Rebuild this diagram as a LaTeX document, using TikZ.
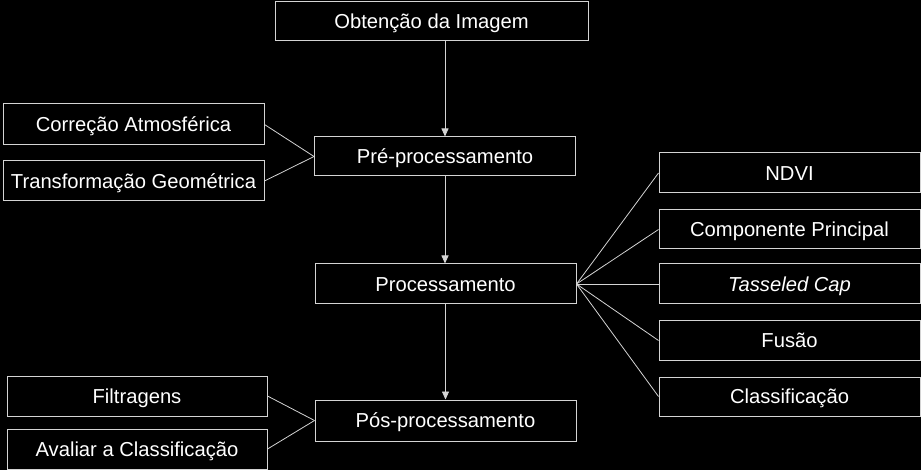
\documentclass[tikz,border=0pt]{standalone}
\usepackage{fontspec}
\setmainfont{Liberation Sans}
\usetikzlibrary{arrows.meta}
\definecolor{edge}{HTML}{D4D4D4}
\begin{document}
\begin{tikzpicture}[x=1pt,y=-1pt,
  box/.style={draw=edge,line width=1pt,fill=black,text=white,inner sep=0pt,
    text height=16pt,text depth=1.6pt,
    minimum width=261pt,minimum height=40pt,font=\fontsize{20.2}{24}\selectfont},
  conn/.style={draw=edge,line width=0.8pt},
  arr/.style={conn,-{Triangle[width=7pt,length=8pt]}}]
\fill[black] (0,0) rectangle (921,470);
\useasboundingbox (0,0) rectangle (921,470);
\node[box,minimum width=313pt,minimum height=39pt] (obt) at (431.5,21.5) {Obtenção da Imagem};
\node[box,minimum height=39pt] (pre) at (445,156.5) {Pré-processamento};
\node[box,minimum height=41pt] (corr) at (133.5,124.5) {Correção Atmosférica};
\node[box] (trans) at (133.5,181) {Transformação Geométrica};
\node[box] (proc) at (445.5,284) {Processamento};
\node[box] (ndvi) at (789.5,173) {NDVI};
\node[box,minimum height=39pt] (comp) at (789.5,229.5) {Componente Principal};
\node[box] (tass) at (789.5,284) {\itshape Tasseled Cap};
\node[box,minimum height=39pt] (fus) at (789.5,340.5) {Fusão};
\node[box,minimum height=39pt] (clas) at (789.5,396.5) {Classificação};
\node[box,minimum height=41pt] (pos) at (445.5,420.5) {Pós-processamento};
\node[box,minimum width=260pt] (filt) at (137,396) {Filtragens};
\node[box,minimum width=260pt] (aval) at (137,449) {Avaliar a Classificação};
\draw[arr] (pre.north |- obt.south) -- (pre.north);
\draw[arr] (pre.south) -- (pre.south |- proc.north);
\draw[arr] (proc.south) -- (proc.south |- pos.north);
\draw[conn] (corr.east) -- (pre.west);
\draw[conn] (trans.east) -- (pre.west);
\draw[conn] (filt.east) -- (pos.west);
\draw[conn] (aval.east) -- (pos.west);
\foreach \n in {ndvi,comp,tass,fus,clas}
  \draw[conn] (proc.east) -- (\n.west);
\end{tikzpicture}
\end{document}
